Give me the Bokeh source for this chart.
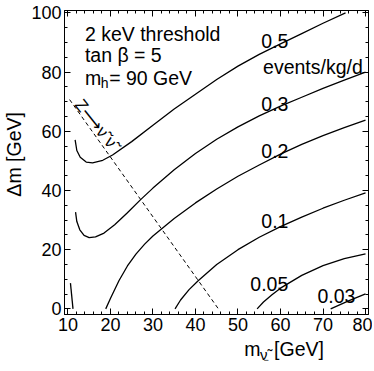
import math
from bokeh.plotting import figure
from bokeh.layouts import column
from bokeh.models import LinearAxis, SingleIntervalTicker, Range1d, CustomJSTickFormatter
from bokeh.core.properties import value
from bokeh.embed import file_html
from bokeh.resources import INLINE

# ---- data ----
c05_x = [11.7, 12.1, 12.9, 14.3, 15.8, 18.2, 20.5, 25, 30, 35, 40, 45, 50, 55, 60, 65, 70, 75.3]
c05_y = [57.1, 53.5, 51.2, 49.6, 49.3, 50.2, 52.0, 56.5, 62, 67.5, 72.5, 77.5, 82, 86, 89.5, 93, 96.5, 100]

c03_x = [11.8, 12.1, 12.8, 13.8, 15.0, 16.5, 18.5, 21, 24, 27.1, 30, 35, 40, 45, 50, 55, 60, 65, 70, 75, 80]
c03_y = [32.7, 29.5, 26.7, 24.8, 24.1, 24.3, 25.6, 28.4, 32.5, 36.9, 40.8, 47, 52.5, 57.3, 61.5, 65.2, 68.5, 71.5, 74.5, 77.3, 80]

c02_x = [18.9, 20, 22, 24, 26, 28, 30, 32, 35, 40, 45, 50, 55, 60, 65, 70, 75, 80]
c02_y = [0, 3.5, 9.5, 14.5, 18.5, 21.8, 24.6, 27, 30.5, 35.8, 40.5, 44.8, 48.6, 52.3, 55.6, 58.5, 61.2, 63.8]

c01_x = [35.2, 36.5, 38.5, 40.7, 45, 50, 55, 60, 65, 70, 75, 80]
c01_y = [0, 3, 6.5, 9.6, 15, 20, 24.2, 27.8, 31, 34, 36.7, 39.2]

c005_x = [54.5, 56, 58, 60, 65, 70, 75, 80]
c005_y = [0, 2.3, 4.8, 7, 11.3, 14.6, 17, 18.6]

c003_x = [71.8, 76, 80]
c003_y = [0, 2.7, 5.1]

c_hi_x = [10.6, 11.2]
c_hi_y = [8.7, 0]

z_x = [10.4, 45.4]
z_y = [70.7, 0]

level_labels = ["0.5", "0.3", "0.2", "0.1", "0.05", "0.03"]
level_x = [55.5, 55.5, 55.5, 55.5, 52.9, 68.7]
level_y = [90.4, 69.1, 53.2, 29.6, 8.3, 4.2]

FONT = "Liberation Sans"

p = figure(width=372, height=339, output_backend="svg", toolbar_location=None,
           x_range=Range1d(9.2, 80.7), y_range=Range1d(-1.9, 100.8),
           min_border_left=62, min_border_right=4, min_border_top=10, min_border_bottom=25,
           x_axis_location=None, y_axis_location=None)
p.background_fill_color = "white"
p.border_fill_color = "white"
p.outline_line_color = "black"
p.outline_line_width = 1
p.xgrid.visible = False
p.ygrid.visible = False

def mk_axis(ticker, labels=True):
    ax = LinearAxis(ticker=ticker)
    ax.axis_line_color = "black"
    ax.major_tick_in = 6
    ax.major_tick_out = 0
    ax.minor_tick_in = 3
    ax.minor_tick_out = 0
    ax.major_tick_line_color = "black"
    ax.minor_tick_line_color = "black"
    if labels:
        ax.major_label_text_font = FONT
        ax.major_label_text_font_size = "18px"
        ax.major_label_text_color = "black"
        ax.major_label_standoff = 3
    else:
        ax.formatter = CustomJSTickFormatter(code="return ''")
        ax.major_label_standoff = 0
    return ax

xt = lambda: SingleIntervalTicker(interval=10, num_minor_ticks=5)
yt = lambda: SingleIntervalTicker(interval=20, num_minor_ticks=4)
p.add_layout(mk_axis(xt()), "below")
yax = mk_axis(yt())
yax.axis_label = "\u00a0\u00a0\u00a0Δm [GeV]"
yax.axis_label_text_font = FONT
yax.axis_label_text_font_size = "19.5px"
yax.axis_label_text_font_style = "normal"
yax.axis_label_text_color = "black"
yax.axis_label_standoff = 3
p.add_layout(yax, "left")
p.add_layout(mk_axis(xt(), False), "above")
p.add_layout(mk_axis(yt(), False), "right")

for xs, ys in [(c05_x, c05_y), (c03_x, c03_y), (c02_x, c02_y), (c01_x, c01_y),
               (c005_x, c005_y), (c003_x, c003_y), (c_hi_x, c_hi_y)]:
    p.line(xs, ys, line_color="black", line_width=1.3)

p.line(z_x, z_y, line_color="black", line_width=1, line_dash="4 3")

def txt(fig, x, y, t, size="19.5px", angle=0.0):
    fig.text(x=[x], y=[y], text=[t], text_font=value(FONT), text_font_size=value(size),
             text_color="black", angle=angle, text_align="left",
             text_baseline="alphabetic")

for t, x, y in zip(level_labels, level_x, level_y):
    txt(p, x, y, t)
txt(p, 55.9, 81.6, "events/kg/d")

txt(p, 14.0, 92.7, "2 keV threshold")
txt(p, 14.0, 85.6, "tan β = 5")
txt(p, 14.0, 77.9, "m")
txt(p, 17.7, 76.4, "h", size="14px")
txt(p, 19.7, 77.9, "= 90 GeV")

txt(p, 12.42, 70.04, "Z⟶ν̃ ν̃", size="17px", angle=-0.90)

# x-axis title strip (shares the x scale)
s = figure(width=372, height=32, output_backend="svg", toolbar_location=None,
           x_range=p.x_range, y_range=Range1d(0, 32),
           min_border_left=62, min_border_right=4, min_border_top=0, min_border_bottom=0,
           x_axis_location=None, y_axis_location=None)
s.outline_line_color = None
s.xgrid.visible = False
s.ygrid.visible = False
s.background_fill_color = "white"
s.border_fill_color = "white"
txt(s, 51.5, 23, "m")
txt(s, 55.2, 17, "ν̃", size="15px")
txt(s, 56.0, 12, "−", size="9px")
txt(s, 58.5, 23, "[GeV]")

layout = column(p, s, spacing=0)
open("out.html", "w").write(file_html(layout, INLINE))
